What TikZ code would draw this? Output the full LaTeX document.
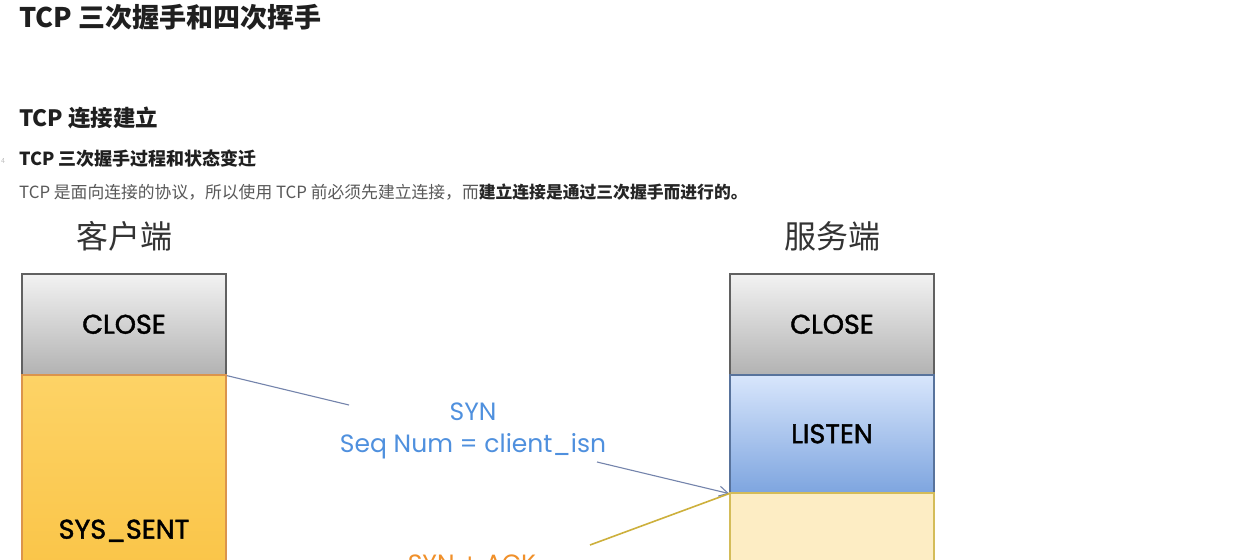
\documentclass[tikz,border=0pt]{standalone}
\usepackage{fontspec}
\usepackage{tikz}
\usetikzlibrary{arrows.meta}
\usetikzlibrary{calc}
\newfontfamily\cjkfont{Noto Sans CJK SC}
\newfontfamily\sketchfont{Poppins}[FakeBold=1.6]
\newfontfamily\msgfont{Poppins}
\definecolor{msgblue}{HTML}{4F90DE}
\definecolor{msgorange}{HTML}{F0902A}
\definecolor{linkblue}{HTML}{7484AC}
\definecolor{linkolive}{HTML}{CDB03C}
\definecolor{sentTop}{HTML}{FDD366}
\definecolor{sentBot}{HTML}{F8BC36}
\definecolor{listenTop}{HTML}{D8E6FC}
\definecolor{listenBot}{HTML}{7EA5DF}
\definecolor{rcvdFill}{HTML}{FDEDC4}

\begin{document}
\begin{tikzpicture}[x=1pt, y=-1pt,
        head_style/.style={anchor=base west, inner sep=0pt, text=black!88, font=\cjkfont\bfseries},
        side_style/.style={inner sep=0pt, text=black!80, font=\cjkfont\fontsize{32}{34}\selectfont},
        state_style/.style={rectangle, anchor=north, line width=1.6pt, minimum width=204pt, inner sep=0pt, font=\sketchfont\fontsize{27}{29}\selectfont},
        close_style/.style={state_style, draw=black!62, top color=black!5, bottom color=black!30, minimum height=101pt},
        sent_style/.style={state_style, draw=orange!80!black!70, top color=sentTop, bottom color=sentBot, minimum height=312pt},
        listen_style/.style={state_style, draw=listenBot!70!black, top color=listenTop, bottom color=listenBot, minimum height=118pt},
        rcvd_style/.style={state_style, draw=linkolive!85, fill=rcvdFill, minimum height=220pt},
        msg_style/.style={inner sep=0pt, font=\msgfont\fontsize{25}{27}\selectfont}]

        \fill[white] (0,0) rectangle (1246,559);
        \clip (0,0) rectangle (1246,559);

        \node [head_style, font=\cjkfont\bfseries\fontsize{27}{29}\selectfont](title) at (19,28) {TCP 三次握手和四次挥手};
        \node [head_style, font=\cjkfont\bfseries\fontsize{22.5}{24}\selectfont](sec) at (19,127) {TCP 连接建立};
        \node [head_style, font=\cjkfont\bfseries\fontsize{18}{20}\selectfont](subsec) at (19,165) {TCP 三次握手过程和状态变迁};
        \node [anchor=base, inner sep=0pt, text=black!25, font=\cjkfont\fontsize{7}{8}\selectfont](mark) at (3,163) {4};
        \node [head_style, font=\cjkfont\fontsize{16.8}{18}\selectfont, text=black!65](body) at (19,198)
            {TCP 是面向连接的协议，所以使用 TCP 前必须先建立连接，而\textcolor{black!85}{\bfseries 建立连接是通过三次握手而进行的。}};

        \node [side_style](client) at (124,236) {客户端};
        \node [side_style](server) at (832,236) {服务端};

        \node [close_style](cclose) at (124,273) {CLOSE};
        \node [sent_style](csent) at (124,374) {SYS\_SENT};
        \node [close_style](sclose) at (832,273) {CLOSE};
        \node [listen_style](slisten) at (832,374) {LISTEN};
        \node [rcvd_style](srcvd) at (832,492) {};

        \node [msg_style, text=msgblue](syn) at (473,412) {SYN};
        \node [msg_style, text=msgblue](synseq) at (473,446) {Seq Num = client\_isn};
        \node [msg_style, text=msgorange, anchor=base](synack) at (472,572) {SYN + ACK};

        \coordinate (syn_a) at (349,405);
        \coordinate (syn_b) at (597,462);
        \coordinate (sack_a) at (590,545);

        \draw [linkblue, line width=1.1pt] (cclose.south east) -- (syn_a);
        \draw [linkblue, line width=1.1pt, -{Straight Barb[length=9pt, width=10pt]}] (syn_b) -- (slisten.south west);
        \draw [linkolive, line width=1.6pt] (slisten.south west) -- (sack_a);
        \end{tikzpicture}
\end{document}
